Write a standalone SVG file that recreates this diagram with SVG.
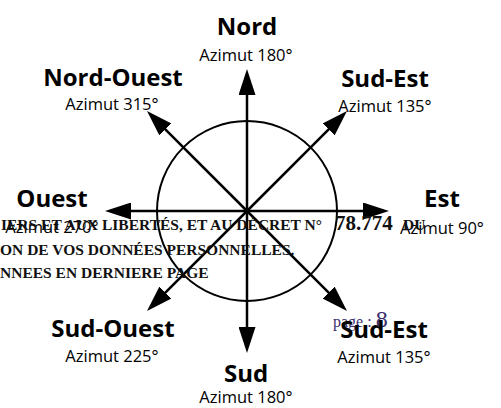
<svg xmlns="http://www.w3.org/2000/svg" width="501" height="408" viewBox="0 0 501 408">
<style>
.t{font-family:"Open Sans","Liberation Sans",sans-serif;font-weight:700;font-size:24px;fill:#000;text-anchor:middle}
.a{font-family:"Open Sans","Liberation Sans",sans-serif;font-size:16.5px;fill:#000;text-anchor:middle}
.ov{font-family:"Liberation Serif",serif;font-weight:700;font-size:15.5px;fill:#111}
.pg{font-family:"Liberation Serif",serif;font-size:16px;fill:#3a2d6e}
.ln{stroke:#000;stroke-width:2.5;fill:none;marker-end:url(#ah)}
</style>
<defs>
<marker id="ah" markerUnits="userSpaceOnUse" viewBox="0 0 26 17" refX="16" refY="8.5" markerWidth="26" markerHeight="17" orient="auto">
<path d="M0,0 L26,8.5 L0,17 z" fill="#000"/>
</marker>
</defs>
<rect width="501" height="408" fill="#fff"/>
<g id="compass">
<circle cx="247" cy="211" r="90" fill="none" stroke="#000" stroke-width="2"/>
</g>
<g id="connectors">
<line class="ln" x1="247" y1="211" x2="247" y2="79"/>
<line class="ln" x1="247" y1="211" x2="247" y2="343"/>
<line class="ln" x1="247" y1="211" x2="115" y2="211"/>
<line class="ln" x1="247" y1="211" x2="379" y2="211"/>
<line class="ln" x1="247" y1="211" x2="154.07" y2="118.07"/>
<line class="ln" x1="247" y1="211" x2="339.93" y2="118.07"/>
<line class="ln" x1="247" y1="211" x2="154.07" y2="303.93"/>
<line class="ln" x1="247" y1="211" x2="339.93" y2="303.93"/>
</g>
<g id="nord"><text class="t" x="247" y="35">Nord</text><text class="a" x="246" y="61">Azimut 180°</text></g>
<g id="nord-ouest"><text class="t" x="113" y="86">Nord-Ouest</text><text class="a" x="112" y="110">Azimut 315°</text></g>
<g id="sud-est-haut"><text class="t" x="385" y="87">Sud-Est</text><text class="a" x="385" y="112">Azimut 135°</text></g>
<g id="ouest"><text class="t" x="52" y="207">Ouest</text><text class="a" x="52" y="233">Azimut 270°</text></g>
<g id="est"><text class="t" x="442" y="207">Est</text><text class="a" x="442" y="234">Azimut 90°</text></g>
<g id="page"><text class="pg" x="333" y="327">page : <tspan font-size="24">8</tspan></text></g>
<g id="sud-ouest"><text class="t" x="113" y="337">Sud-Ouest</text><text class="a" x="112" y="362">Azimut 225°</text></g>
<g id="sud-est-bas"><text class="t" x="384" y="338">Sud-Est</text><text class="a" x="384" y="363">Azimut 135°</text></g>
<g id="sud"><text class="t" x="246" y="382">Sud</text><text class="a" x="246" y="403">Azimut 180°</text></g>
<g id="overlay">
<text class="ov" x="1" y="230">IERS ET AUX LIBERTÉS, ET AU DÉCRET N° <tspan x="335" font-size="21">78.774</tspan><tspan x="403">DU</tspan></text>
<text class="ov" x="0" y="255">ON DE VOS DONNÉES PERSONNELLES.</text>
<text class="ov" x="0" y="278">NNEES EN DERNIERE PAGE</text>
</g>
</svg>
